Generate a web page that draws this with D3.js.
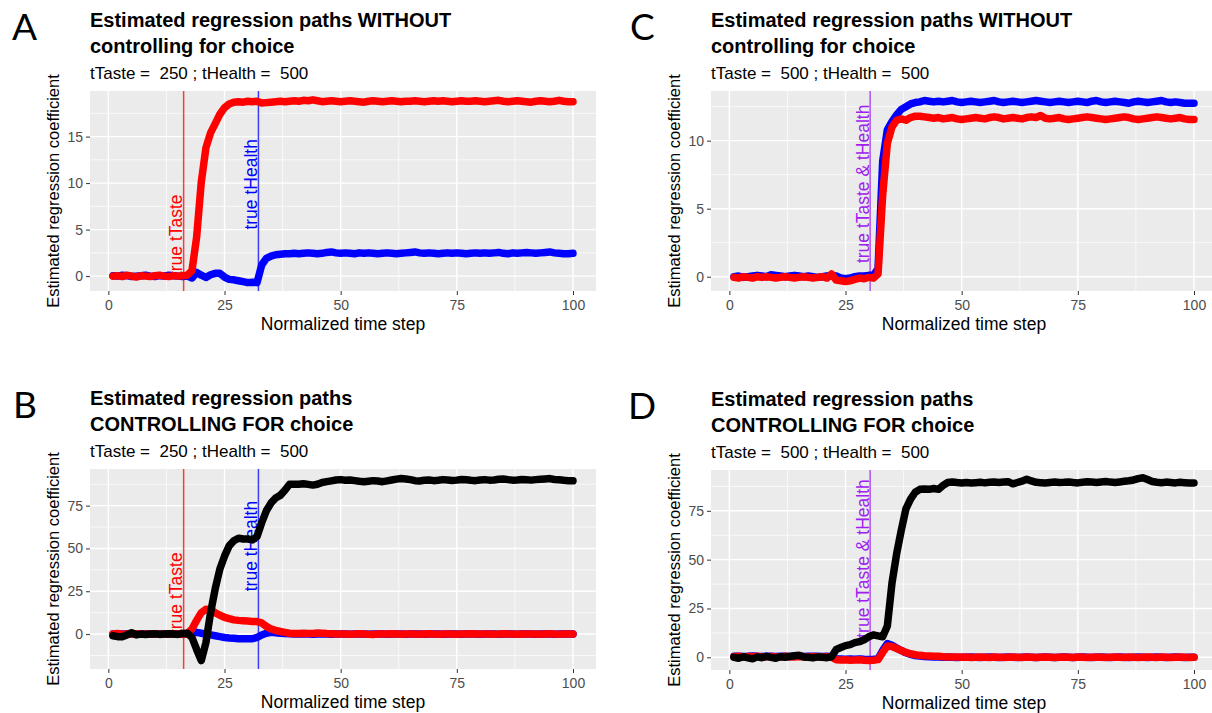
<!DOCTYPE html>
<html>
<head>
<meta charset="utf-8">
<script src="https://cdn.jsdelivr.net/npm/d3@7/dist/d3.min.js"></script>
<style>
body { margin: 0; background: #fff; }
svg text { font-family: "Liberation Sans", Arial, sans-serif; }
</style>
</head>
<body>
<div id="plot"></div>
<script>
// time steps and shared axis ticks
var steps = d3.range(1, 101)
var xTicks = [0, 25, 50, 75, 100]
var xLabel = 'Normalized time step'
var yLabel = 'Estimated regression coefficient'

// panel A: tTaste 250, tHealth 500, no choice control
var aTaste = [0.0,0.05,-0.05,0.1,0.0,-0.1,0.05,0.0,-0.05,0.05,
	0.1,0.0,-0.05,0.05,0.0,0.05,0.1,0.6,4.2,10.1,
	13.8,15.4,16.4,17.4,18.1,18.5,18.7,18.75,18.7,18.8,
	18.75,18.8,18.6,18.65,18.7,18.75,18.8,18.75,18.8,18.85,
	18.8,18.9,18.85,18.95,18.85,18.75,18.8,18.85,18.8,18.75,
	18.8,18.85,18.8,18.75,18.7,18.8,18.85,18.8,18.75,18.8,
	18.85,18.8,18.75,18.8,18.8,18.85,18.8,18.75,18.8,18.85,
	18.8,18.85,18.8,18.75,18.8,18.85,18.8,18.8,18.85,18.8,
	18.75,18.8,18.85,18.9,18.8,18.75,18.8,18.85,18.8,18.75,
	18.7,18.8,18.85,18.8,18.75,18.8,18.9,18.8,18.75,18.75]
var aHealth = [0.05,0.0,0.1,0.05,-0.05,0.0,0.05,0.1,0.0,-0.05,
	0.05,0.0,0.1,0.05,0.0,-0.05,0.0,-0.2,0.4,0.1,
	-0.15,0.15,0.3,0.3,-0.1,-0.35,-0.4,-0.5,-0.6,-0.7,
	-0.65,-0.7,1.2,1.9,2.15,2.3,2.35,2.4,2.4,2.45,
	2.4,2.45,2.5,2.45,2.4,2.45,2.55,2.6,2.5,2.45,
	2.5,2.45,2.4,2.5,2.45,2.5,2.45,2.4,2.45,2.5,
	2.45,2.4,2.45,2.5,2.55,2.6,2.5,2.45,2.5,2.45,
	2.4,2.45,2.5,2.45,2.5,2.45,2.4,2.45,2.5,2.45,
	2.5,2.45,2.5,2.55,2.45,2.4,2.5,2.45,2.5,2.55,
	2.5,2.45,2.5,2.55,2.6,2.5,2.45,2.4,2.4,2.45]

// panel B: tTaste 250, tHealth 500, controlling for choice
var bChoice = [-1.0,-1.5,-1.5,-0.5,0.8,-0.5,0.0,-0.3,0.0,0.2,
	-0.2,0.0,0.2,0.0,-0.2,0.3,0.5,-2.0,-9.0,-15.5,
	-5.0,12.5,26.5,38.0,45.5,51.5,54.5,56.0,55.5,55.5,
	55.0,57.0,65.0,72.0,76.5,79.5,81.0,84.0,87.5,87.5,
	87.5,87.8,87.4,87.0,87.5,88.5,89.0,89.5,90.0,90.2,
	89.8,90.0,89.6,89.2,89.0,89.3,89.6,89.4,89.0,89.5,
	90.0,90.5,90.8,90.6,90.2,89.6,89.4,89.8,90.0,89.6,
	89.8,90.2,90.0,89.7,89.9,90.3,90.1,89.8,89.6,90.0,
	90.2,89.9,90.0,90.4,90.6,90.2,89.9,90.0,90.3,90.1,
	89.9,90.2,90.4,90.6,90.8,90.3,90.1,89.8,89.6,89.5]
var bTaste = [0.0,0.3,-0.2,0.1,0.0,0.2,-0.1,0.0,0.1,0.0,
	-0.1,0.1,0.0,0.2,0.0,-0.1,0.3,3.0,8.0,12.5,
	14.5,14.2,12.5,11.0,9.8,9.0,8.3,8.0,7.8,7.6,
	7.4,7.3,6.5,4.5,3.0,2.2,1.5,1.0,0.5,0.3,
	0.4,0.5,0.3,0.4,0.6,0.5,0.3,0.2,0.1,0.0,
	0.1,-0.1,0.0,0.2,0.1,-0.1,-0.2,0.0,0.1,0.0,
	0.2,0.1,-0.1,0.0,0.1,0.0,-0.1,0.1,0.2,0.0,
	-0.1,0.0,0.1,0.0,-0.1,0.1,0.0,0.2,0.1,0.0,
	0.0,0.1,-0.1,0.0,0.2,0.1,0.0,-0.1,0.1,0.0,
	0.1,0.0,-0.1,0.1,0.2,0.0,-0.1,0.0,0.1,0.0]
var bHealth = [0.0,-0.2,0.1,0.0,-0.1,0.1,0.0,0.1,-0.1,0.0,
	0.1,0.0,-0.1,0.0,0.1,0.0,0.0,0.8,1.0,0.5,
	0.0,-0.5,-1.0,-1.5,-2.0,-2.3,-2.5,-2.7,-2.8,-2.8,
	-2.7,-2.0,-0.5,0.5,1.0,0.8,0.5,0.3,0.2,0.1,
	0.0,0.1,0.0,-0.1,0.0,0.1,0.0,-0.1,0.0,0.1,
	0.0,-0.1,0.0,0.1,0.0,-0.1,0.0,0.1,0.0,-0.1,
	0.0,0.1,0.0,-0.1,0.0,0.1,0.0,-0.1,0.0,0.1,
	0.0,-0.1,0.0,0.1,0.0,-0.1,0.0,0.1,0.0,-0.1,
	0.0,0.1,0.0,-0.1,0.0,0.1,0.0,-0.1,0.0,0.1,
	0.0,-0.1,0.0,0.1,0.0,-0.1,0.0,0.1,0.0,0.0]

// panel C: tTaste 500, tHealth 500, no choice control
var cHealth = [0.0,0.05,-0.05,0.0,0.05,0.1,0.05,0.0,0.15,0.1,
	0.05,0.0,0.05,0.1,0.05,0.0,0.05,0.0,-0.05,0.0,
	0.05,0.1,0.05,-0.1,-0.15,-0.1,0.0,0.05,0.05,0.1,
	0.1,0.6,8.5,10.8,11.4,11.9,12.3,12.5,12.7,12.8,
	12.85,12.95,12.9,12.85,12.9,12.85,12.9,12.95,12.85,12.8,
	12.85,12.9,12.85,12.8,12.85,12.9,12.95,12.85,12.8,12.85,
	12.9,12.85,12.8,12.85,12.9,12.95,12.9,12.85,12.8,12.85,
	12.9,12.85,12.8,12.85,12.9,12.85,12.8,12.9,12.95,12.85,
	12.8,12.85,12.9,12.85,12.8,12.75,12.85,12.9,12.85,12.8,
	12.85,12.9,12.95,12.85,12.8,12.85,12.8,12.75,12.75,12.75]
var cTaste = [-0.05,-0.1,0.0,-0.05,-0.1,0.0,-0.05,0.0,-0.05,-0.1,
	-0.05,0.0,-0.05,-0.1,-0.05,0.0,-0.05,-0.1,-0.05,0.0,
	-0.1,0.2,-0.25,-0.3,-0.35,-0.3,-0.2,-0.1,-0.15,-0.05,
	-0.1,0.2,6.0,9.8,11.0,11.5,11.6,11.5,11.7,11.8,
	11.8,11.75,11.7,11.65,11.7,11.6,11.65,11.7,11.6,11.55,
	11.6,11.65,11.7,11.65,11.6,11.7,11.75,11.7,11.6,11.65,
	11.7,11.65,11.6,11.7,11.75,11.7,11.85,11.65,11.6,11.65,
	11.7,11.6,11.55,11.6,11.65,11.7,11.75,11.7,11.65,11.6,
	11.55,11.6,11.65,11.7,11.75,11.7,11.6,11.55,11.6,11.65,
	11.7,11.75,11.7,11.65,11.6,11.65,11.7,11.6,11.55,11.55]

// panel D: tTaste 500, tHealth 500, controlling for choice
var dChoice = [0.0,-0.5,0.3,-0.3,-0.8,0.2,-0.2,0.5,0.0,-0.5,
	0.3,0.0,0.4,0.8,1.0,0.2,0.0,-0.3,0.2,0.0,
	-0.2,0.3,4.0,5.0,6.0,6.5,7.5,8.0,9.0,10.5,
	11.5,11.0,10.5,16.0,38.0,53.0,65.0,76.0,81.0,84.5,
	86.0,86.2,86.0,86.4,86.0,88.0,89.5,89.8,89.5,89.3,
	89.5,89.2,89.4,89.6,89.3,89.6,89.8,89.5,89.7,89.9,
	88.8,89.5,90.2,91.2,90.3,89.6,89.4,89.2,89.5,89.7,
	89.5,89.6,89.8,89.5,89.3,89.6,89.9,89.7,89.5,89.8,
	90.0,89.7,89.5,89.8,90.1,90.4,90.8,91.5,91.9,91.0,
	90.0,89.6,89.4,89.7,89.5,89.3,89.6,89.4,89.2,89.3]
var dTaste = [0.3,0.5,0.2,0.4,0.3,0.5,0.2,0.3,0.4,0.2,
	0.3,0.5,0.3,0.2,0.4,0.3,0.2,0.4,0.3,0.2,
	0.3,0.1,-1.2,-1.4,-1.3,-1.5,-1.4,-1.3,-1.5,-1.6,
	-1.5,-1.2,2.5,5.8,5.5,4.5,3.5,2.5,1.8,1.3,
	1.0,0.8,0.7,0.6,0.5,0.3,0.2,0.1,0.1,0.0,
	0.1,-0.1,0.0,0.1,0.0,-0.1,0.1,0.0,-0.1,0.0,
	0.1,0.0,-0.1,0.1,0.0,-0.1,0.0,0.1,0.0,-0.1,
	0.0,0.1,0.0,-0.1,0.1,0.0,-0.1,0.0,0.1,0.0,
	-0.1,0.0,0.1,0.0,-0.1,0.1,0.0,-0.1,0.0,0.1,
	0.0,-0.1,0.1,0.0,-0.1,0.0,0.1,0.0,-0.1,0.0]
var dHealth = [0.5,0.6,0.4,0.5,0.7,0.5,0.4,0.6,0.5,0.4,
	0.5,0.6,0.4,0.5,0.6,0.4,0.5,0.6,0.5,0.4,
	0.5,0.3,-0.8,-0.9,-1.0,-0.9,-1.0,-0.8,-1.0,-1.1,
	-1.0,-0.8,3.5,7.0,6.2,4.8,3.5,2.3,1.5,0.9,
	0.6,0.4,0.3,0.2,0.1,0.0,0.1,0.0,-0.1,0.0,
	0.0,0.1,0.0,-0.1,0.0,0.1,0.0,-0.1,0.0,0.1,
	0.0,-0.1,0.0,0.1,0.0,-0.1,0.0,0.1,0.0,-0.1,
	0.0,0.1,0.0,-0.1,0.0,0.1,0.0,-0.1,0.0,0.1,
	0.0,-0.1,0.0,0.1,0.0,-0.1,0.0,0.1,0.0,-0.1,
	0.0,0.1,0.0,-0.1,0.0,0.1,0.0,-0.1,0.0,0.0]

// true change points on the normalized time axis
var tTasteEarly = 16.2
var tHealthLate = 32.3
var tBoth = 30.3

var titleWithout = ['Estimated regression paths WITHOUT', 'controlling for choice']
var titleWith = ['Estimated regression paths', 'CONTROLLING FOR choice']

var panelW = 506
var panelH = 200
var xDomain = [-3.95, 104.95]

var svg = d3.select('#plot').append('svg')
	.attr('width', 1212)
	.attr('height', 713)

function minors(ticks, dom){
	var step = ticks[1] - ticks[0]
	var m = ticks.map(function(v){ return v - step / 2 })
	m.push(ticks[ticks.length - 1] + step / 2)
	return m.filter(function(v){ return v > dom[0] && v < dom[1] })
}

function drawPanel(p){
	var g = svg.append('g')
	var x = d3.scaleLinear().domain(xDomain).range([p.left, p.left + panelW])
	var y = d3.scaleLinear().domain(p.yDomain).range([p.top + panelH, p.top])

	g.append('rect')
		.attr('x', p.left).attr('y', p.top)
		.attr('width', panelW).attr('height', panelH)
		.attr('fill', '#ebebeb')

	// grid: minor then major
	g.selectAll('.vminor').data(minors(xTicks, xDomain)).enter().append('line')
		.attr('x1', x).attr('x2', x).attr('y1', p.top).attr('y2', p.top + panelH)
		.attr('stroke', '#fff').attr('stroke-width', 0.7)
	g.selectAll('.hminor').data(minors(p.yTicks, p.yDomain)).enter().append('line')
		.attr('y1', y).attr('y2', y).attr('x1', p.left).attr('x2', p.left + panelW)
		.attr('stroke', '#fff').attr('stroke-width', 0.7)
	g.selectAll('.vmajor').data(xTicks).enter().append('line')
		.attr('x1', x).attr('x2', x).attr('y1', p.top).attr('y2', p.top + panelH)
		.attr('stroke', '#fff').attr('stroke-width', 1.4)
	g.selectAll('.hmajor').data(p.yTicks).enter().append('line')
		.attr('y1', y).attr('y2', y).attr('x1', p.left).attr('x2', p.left + panelW)
		.attr('stroke', '#fff').attr('stroke-width', 1.4)

	var xAxis = g.append('g')
		.attr('transform', 'translate(0,' + (p.top + panelH) + ')')
		.call(d3.axisBottom(x).tickValues(xTicks).tickSize(4).tickPadding(5))
	var yAxis = g.append('g')
		.attr('transform', 'translate(' + p.left + ',0)')
		.call(d3.axisLeft(y).tickValues(p.yTicks).tickSize(4).tickPadding(3))
	;[xAxis, yAxis].forEach(function(a){
		a.select('.domain').remove()
		a.selectAll('.tick line').attr('stroke', '#333')
		a.selectAll('.tick text').attr('fill', '#4d4d4d')
			.style('font-size', '14px').style('font-family', '"Liberation Sans", Arial, sans-serif')
	})

	// true change-point markers
	p.marks.forEach(function(m){
		g.append('line')
			.attr('x1', x(m.t)).attr('x2', x(m.t))
			.attr('y1', p.top).attr('y2', p.top + panelH)
			.attr('stroke', m.color).attr('stroke-opacity', 0.75).attr('stroke-width', 1.5)
		g.append('text')
			.attr('transform', 'translate(' + (x(m.t) - 1.5) + ',' + y(m.at) + ') rotate(-90)')
			.attr('fill', m.color)
			.style('font-size', '17.5px')
			.text(m.label)
	})

	var line = d3.line()
		.x(function(d, i){ return x(steps[i]) })
		.y(function(d){ return y(d) })
	p.series.forEach(function(s){
		g.append('path')
			.attr('d', line(s.values))
			.attr('fill', 'none')
			.attr('stroke', s.color)
			.attr('stroke-width', 7.5)
			.attr('stroke-linejoin', 'round')
			.attr('stroke-linecap', 'round')
	})

	// titles
	g.append('text').attr('x', p.left).attr('y', p.top - 64)
		.style('font-size', '20px').style('font-weight', 'bold').text(p.title[0])
	g.append('text').attr('x', p.left).attr('y', p.top - 38.5)
		.style('font-size', '20px').style('font-weight', 'bold').text(p.title[1])
	g.append('text').attr('x', p.left).attr('y', p.top - 12.5)
		.style('font-size', '17px').style('white-space', 'pre').text(p.subtitle)
	g.append('text').attr('x', p.left + panelW / 2).attr('y', p.top + panelH + 39)
		.attr('text-anchor', 'middle').style('font-size', '17.5px').text(xLabel)
	g.append('text')
		.attr('transform', 'translate(' + (p.left - 31) + ',' + (p.top + panelH / 2) + ') rotate(-90)')
		.attr('text-anchor', 'middle').style('font-size', '16.5px').text(yLabel)

	g.append('text').attr('x', p.letterX).attr('y', p.top - 51)
		.style('font-family', 'Lato, "Open Sans", sans-serif').style('font-size', '37px')
		.text(p.letter)
}

drawPanel({
	letter: 'A', letterX: 12, left: 90, top: 91,
	yDomain: [-1.6, 19.9], yTicks: [0, 5, 10, 15],
	title: titleWithout, subtitle: 'tTaste =  250 ; tHealth =  500',
	marks: [
		{t: tTasteEarly, color: 'red', label: 'true tTaste', at: 0},
		{t: tHealthLate, color: 'blue', label: 'true tHealth', at: 5}
	],
	series: [{values: aHealth, color: '#0000ff'}, {values: aTaste, color: '#ff0000'}]
})
drawPanel({
	letter: 'B', letterX: 13, left: 90, top: 469,
	yDomain: [-20.4, 96.4], yTicks: [0, 25, 50, 75],
	title: titleWith, subtitle: 'tTaste =  250 ; tHealth =  500',
	marks: [
		{t: tTasteEarly, color: 'red', label: 'true tTaste', at: 0},
		{t: tHealthLate, color: 'blue', label: 'true tHealth', at: 25}
	],
	series: [{values: bHealth, color: '#0000ff'}, {values: bTaste, color: '#ff0000'}, {values: bChoice, color: '#000'}]
})
drawPanel({
	letter: 'C', letterX: 630, left: 711, top: 91,
	yDomain: [-1.05, 13.65], yTicks: [0, 5, 10],
	title: titleWithout, subtitle: 'tTaste =  500 ; tHealth =  500',
	marks: [
		{t: tBoth, color: '#a020f0', label: 'true tTaste & tHealth', at: 1}
	],
	series: [{values: cHealth, color: '#0000ff'}, {values: cTaste, color: '#ff0000'}]
})
drawPanel({
	letter: 'D', letterX: 628, left: 711, top: 470,
	yDomain: [-6.5, 95.9], yTicks: [0, 25, 50, 75],
	title: titleWith, subtitle: 'tTaste =  500 ; tHealth =  500',
	marks: [
		{t: tBoth, color: '#a020f0', label: 'true tTaste & tHealth', at: 10}
	],
	series: [{values: dHealth, color: '#0000ff'}, {values: dTaste, color: '#ff0000'}, {values: dChoice, color: '#000'}]
})
</script>
</body>
</html>
